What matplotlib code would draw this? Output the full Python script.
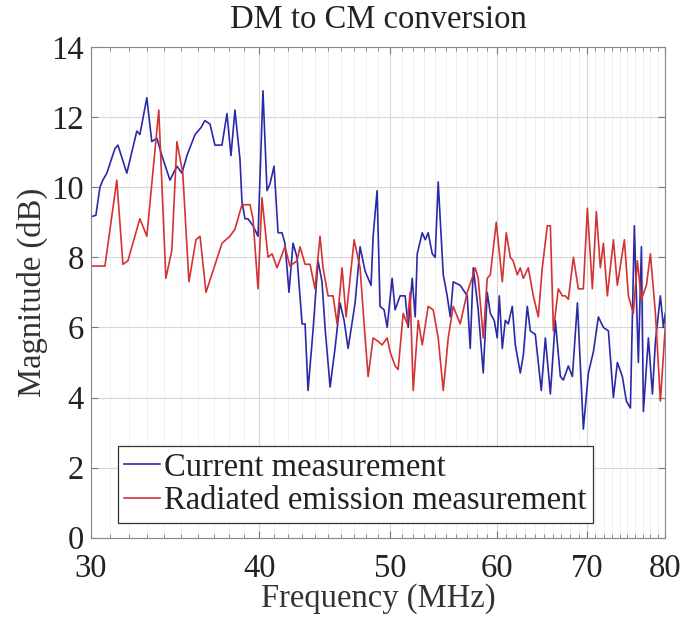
import matplotlib
matplotlib.use("Agg")
import matplotlib.pyplot as plt
import numpy as np
from matplotlib.ticker import FixedLocator, NullFormatter, FixedFormatter

# current measurement (MHz, dB)
cur_f = [30.10, 30.26, 30.47, 30.62, 30.83, 31.26, 31.42, 31.90, 32.45, 32.62,
         33.01, 33.29, 33.58, 33.87, 34.34, 34.75, 35.05, 35.35, 35.84, 36.21,
         36.45, 36.77, 37.08, 37.53, 37.85, 38.11, 38.37, 38.70, 38.83, 39.03,
         39.23, 39.57, 39.91, 40.25, 40.53, 40.74, 41.02, 41.30, 41.58, 41.79,
         42.08, 42.37, 42.66, 43.03, 43.25, 43.47, 43.84, 44.22, 44.52, 44.75,
         45.14, 45.52, 45.91, 46.23, 46.55, 47.11, 47.51, 47.92, 48.17, 48.41,
         48.58, 48.91, 49.16, 49.50, 49.76, 50.18, 50.44, 50.87, 51.31, 51.58,
         51.93, 52.20, 52.38, 52.83, 53.10, 53.37, 53.74, 54.01, 54.29, 54.76,
         55.13, 55.42, 55.70, 56.37, 57.05, 57.34, 57.64, 58.13, 58.63, 59.03,
         59.34, 59.74, 60.05, 60.26, 60.57, 60.88, 61.19, 61.61, 61.93, 62.46,
         62.78, 63.21, 63.54, 64.08, 64.74, 65.19, 65.75, 66.31, 66.88, 67.23,
         67.80, 68.27, 68.86, 69.56, 70.16, 70.76, 71.37, 71.98, 72.60, 73.22,
         73.72, 74.35, 74.86, 75.38, 75.89, 76.41, 76.81, 77.07, 77.73, 78.27,
         78.67, 79.34, 79.75, 80.00]
cur_db = [9.17, 9.2, 10.0, 10.2, 10.4, 11.1, 11.2, 10.4, 11.6, 11.5,
          12.55, 11.3, 11.4, 10.9, 10.2, 10.6, 10.4, 10.9, 11.5, 11.7,
          11.9, 11.8, 11.2, 11.2, 12.1, 10.9, 12.2, 10.8, 9.6, 9.1,
          9.1, 8.9, 8.6, 12.75, 9.9, 10.1, 10.6, 8.7, 8.7, 8.4,
          7.0, 8.4, 8.0, 6.1, 6.1, 4.2, 5.9, 7.9, 7.3, 6.0,
          4.3, 5.4, 6.7, 6.2, 5.4, 6.7, 8.3, 7.6, 7.4, 7.2,
          8.6, 9.9, 6.6, 6.5, 6.0, 7.4, 6.5, 6.9, 6.9, 6.0,
          7.4, 6.3, 8.1, 8.7, 8.5, 8.7, 8.1, 8.0, 10.15, 7.5,
          6.9, 6.3, 7.3, 7.2, 6.9, 5.4, 7.7, 6.5, 4.7, 7.0,
          6.4, 6.2, 5.7, 6.9, 5.4, 6.2, 6.1, 6.6, 5.5, 4.7,
          5.2, 6.6, 5.9, 5.8, 4.2, 5.7, 4.1, 6.2, 4.6, 4.5,
          4.9, 4.6, 6.7, 3.1, 4.7, 5.3, 6.3, 6.0, 5.9, 4.0,
          5.0, 4.6, 3.9, 3.7, 8.9, 5.0, 8.3, 3.6, 5.7, 4.1,
          5.6, 6.9, 6.0, 6.4]

# radiated emission measurement (MHz, dB)
rad_f = [30.10, 30.73, 31.36, 31.69, 31.96, 32.62, 33.01, 33.69, 34.10, 34.45,
         34.75, 35.10, 35.47, 35.90, 36.15, 36.52, 36.95, 37.53, 38.04, 38.37,
         38.83, 39.37, 39.57, 39.91, 40.18, 40.60, 40.88, 41.23, 41.79, 42.15,
         42.66, 42.88, 43.25, 43.62, 43.99, 44.37, 44.60, 44.98, 45.37, 45.68,
         46.07, 46.39, 47.03, 47.51, 47.92, 48.17, 48.58, 49.00, 49.33, 49.76,
         50.01, 50.44, 50.70, 51.14, 51.49, 51.75, 52.02, 52.47, 52.83, 53.37,
         53.83, 54.29, 54.76, 55.23, 55.70, 56.37, 57.05, 57.64, 57.83, 58.13,
         58.63, 59.03, 59.34, 59.95, 60.57, 60.98, 61.40, 61.70, 62.14, 62.46,
         62.78, 63.32, 63.86, 64.41, 64.85, 65.41, 65.75, 66.09, 66.65, 67.11,
         67.46, 67.80, 68.39, 68.97, 69.56, 70.04, 70.64, 71.12, 71.61, 71.98,
         72.47, 73.22, 73.72, 74.61, 75.12, 75.76, 76.28, 76.81, 77.47, 78.00,
         78.67, 79.34, 80.00]
rad_db = [7.75, 7.75, 10.2, 7.8, 7.9, 9.1, 8.6, 12.2, 7.4, 8.2,
          11.3, 10.4, 7.3, 8.5, 8.6, 7.0, 7.6, 8.4, 8.6, 8.8,
          9.5, 9.5, 9.1, 7.1, 9.7, 8.0, 8.1, 7.7, 8.3, 7.75,
          7.9, 8.3, 7.8, 7.8, 7.1, 8.6, 7.7, 6.9, 6.9, 6.1,
          7.7, 6.3, 8.5, 7.7, 5.7, 4.6, 5.7, 5.6, 5.5, 5.7,
          5.3, 4.9, 4.8, 6.4, 6.1, 7.0, 4.2, 6.2, 5.5, 6.6,
          6.5, 5.7, 4.2, 5.7, 6.6, 6.1, 7.0, 7.5, 7.7, 7.4,
          5.7, 7.4, 7.5, 9.0, 7.3, 8.7, 8.0, 7.9, 7.5, 7.7,
          7.4, 7.7, 6.9, 6.3, 7.7, 8.9, 8.9, 5.9, 7.1, 6.9,
          6.9, 6.8, 8.0, 7.1, 7.1, 9.4, 7.1, 9.3, 7.7, 8.4,
          6.9, 8.5, 7.2, 8.5, 6.9, 6.4, 7.9, 6.8, 7.2, 8.1,
          6.4, 3.9, 6.0]

x_major = [30, 40, 50, 60, 70, 80]
x_minor = [f for f in range(31, 80) if f % 10 != 0]
y_ticks = [0, 2, 4, 6, 8, 10, 12, 14]

plt.rcParams["font.family"] = ["Liberation Serif", "DejaVu Serif"]

FS = 23.5

fig = plt.figure(figsize=(6.83, 6.26), dpi=100)
ax = fig.add_axes([0.133, 0.141, 0.841, 0.784])

ax.plot(cur_f, cur_db, color="#2a2aa8", lw=1.2, label="Current measurement")
ax.plot(rad_f, rad_db, color="#d43333", lw=1.2, label="Radiated emission measurement")

ax.set_xscale("log")
ax.set_xlim(30, 80)
ax.set_ylim(0, 14)
ax.xaxis.set_major_locator(FixedLocator(x_major))
ax.xaxis.set_major_formatter(FixedFormatter([str(v) for v in x_major]))
ax.xaxis.set_minor_locator(FixedLocator(x_minor))
ax.xaxis.set_minor_formatter(NullFormatter())
ax.set_yticks(y_ticks)

ax.grid(which="major", color="#d8d8d8", lw=0.8)
ax.grid(which="minor", axis="x", color="#efefef", lw=0.6)
ax.set_axisbelow(True)

ax.tick_params(which="both", direction="in", top=True, right=True,
               labelsize=FS, colors="#777777", labelcolor="#222222")
ax.tick_params(which="major", length=5)
ax.tick_params(which="minor", length=3)
ax.tick_params(axis="x", pad=11)
ax.tick_params(axis="y", pad=5)
for s in ax.spines.values():
    s.set_color("#888888")

ax.set_title("DM to CM conversion", fontsize=FS, color="#222222", pad=14)
ax.set_xlabel("Frequency (MHz)", fontsize=FS, color="#333333", labelpad=0)
ax.set_ylabel("Magnitude (dB)", fontsize=FS, color="#333333", labelpad=2)

leg = ax.legend(loc="lower left", bbox_to_anchor=(0.047, 0.031), borderaxespad=0,
                fontsize=FS, handlelength=1.1, handletextpad=0.1, borderpad=0.2,
                labelspacing=0.08, fancybox=False, framealpha=1, edgecolor="#333333")
leg.get_frame().set_linewidth(0.9)
for t in leg.get_texts():
    t.set_color("#222222")

fig.savefig("out.png", dpi=100)
